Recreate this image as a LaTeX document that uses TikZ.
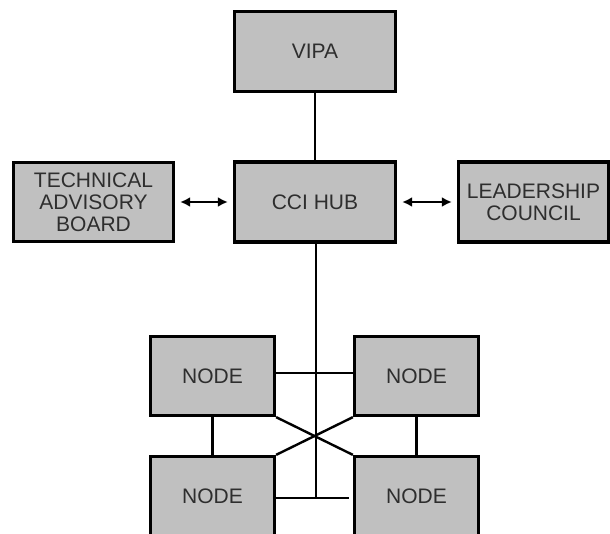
\documentclass[tikz,border=0pt]{standalone}
\usepackage{fontspec}
\setmainfont{Liberation Sans}
\usetikzlibrary{arrows.meta}
\definecolor{boxfill}{HTML}{C0C0C0}
\definecolor{txt}{HTML}{2E2E2E}
\begin{document}
\begin{tikzpicture}[x=1pt,y=-1pt,
  box/.style={draw=black, fill=boxfill, line width=3.3pt, rectangle, align=center,
    text=txt, font=\fontsize{21}{22}\selectfont, inner sep=0pt},
  conn/.style={line width=2.4pt, draw=black},
  biarrow/.style={line width=2.3pt, {Latex[length=10pt,width=10pt]}-{Latex[length=10pt,width=10pt]}, shorten <=5pt, shorten >=5pt}]
\useasboundingbox (0,0) rectangle (610,533);
\clip (0,0) rectangle (610,533);
\fill[white] (0,0) rectangle (610,533);

\node[box, minimum width=161pt, minimum height=80pt] (VIPA) at (315,51.5) {VIPA};
\node[box, minimum width=161pt, minimum height=80pt] (CCI) at (315,202) {CCI HUB};
\node[box, minimum width=160pt, minimum height=79pt] (TAB) at (93.5,202) {TECHNICAL\\ADVISORY\\BOARD};
\node[box, minimum width=150pt, minimum height=80pt] (LC) at (533.5,202) {LEADERSHIP\\COUNCIL};

\node[box, minimum width=124pt, minimum height=79pt] (TL) at (212.5,376) {NODE};
\node[box, minimum width=124pt, minimum height=79pt] (TR) at (416.5,376) {NODE};
\node[box, minimum width=124pt, minimum height=79pt] (BL) at (212.5,496) {NODE};
\node[box, minimum width=124pt, minimum height=79pt] (BR) at (416.5,496) {NODE};

\coordinate (mid) at (316,373);
\coordinate (hub) at (316,498);
\coordinate (stop) at (349,498);

\draw[conn] (VIPA.south) -- (CCI.north);
\draw[conn] (CCI.south -| hub) -- (hub);
\draw[conn] (TL.east |- mid) -- (TR.west |- mid);
\draw[conn] (BL.east |- hub) -- (stop);
\draw[conn] (TL.south) -- (BL.north);
\draw[conn] (TR.south) -- (BR.north);
\draw[conn] (TL.south east) -- (BR.north west);
\draw[conn] (TR.south west) -- (BL.north east);

\draw[biarrow] (TAB.east) -- (TAB.east -| CCI.west);
\draw[biarrow] (CCI.east) -- (CCI.east -| LC.west);
\end{tikzpicture}
\end{document}
